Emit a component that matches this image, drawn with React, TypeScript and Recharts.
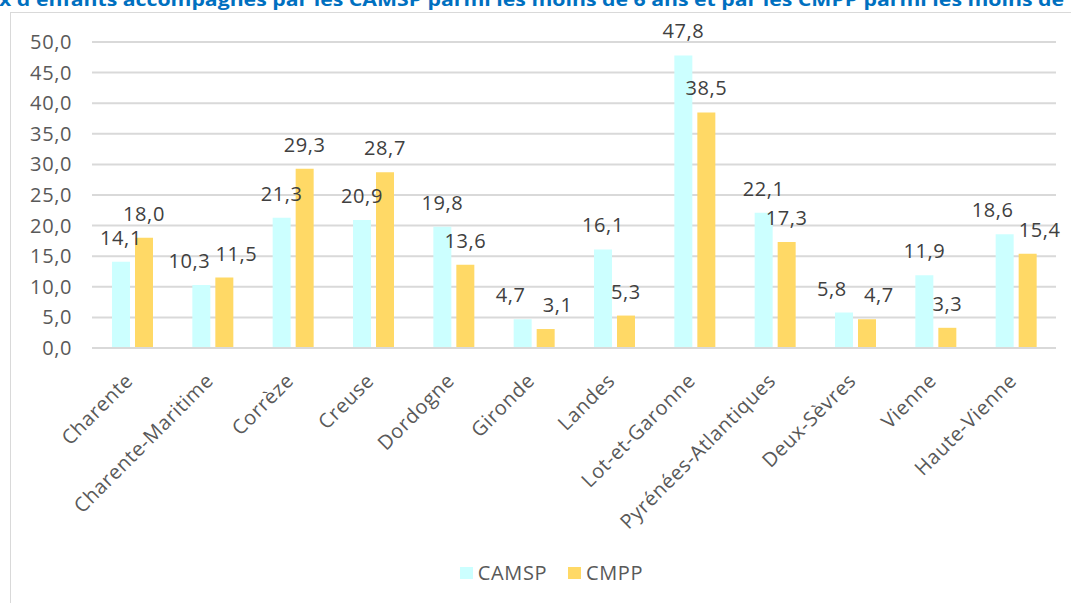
import React from 'react';
import { BarChart, Bar, XAxis, YAxis, CartesianGrid, Legend, LabelList } from 'recharts';

const categories = [
  'Charente', 'Charente-Maritime', 'Corrèze', 'Creuse', 'Dordogne', 'Gironde',
  'Landes', 'Lot-et-Garonne', 'Pyrénées-Atlantiques', 'Deux-Sèvres', 'Vienne', 'Haute-Vienne',
];
const camspValues = [14.1, 10.3, 21.3, 20.9, 19.8, 4.7, 16.1, 47.8, 22.1, 5.8, 11.9, 18.6];
const cmppValues = [18.0, 11.5, 29.3, 28.7, 13.6, 3.1, 5.3, 38.5, 17.3, 4.7, 3.3, 15.4];
const yTicks = [0, 5, 10, 15, 20, 25, 30, 35, 40, 45, 50];
const seriesNames = ['CAMSP', 'CMPP'];
const titleText = "x d'enfants accompagnés par les CAMSP  parmi les moins de 6 ans et par les CMPP  parmi les moins de";

const COLORS = { camsp: '#CCFFFF', cmpp: '#FFD966' };
const FONT = '"Open Sans", "Segoe UI", sans-serif';
const FS = 20;
const LS = 0.6;

const data = categories.map((name, i) => ({ name, camsp: camspValues[i], cmpp: cmppValues[i] }));

const fmt = (v: number) => v.toFixed(1).replace('.', ',');

const XTick = (props: any) => {
  const { x, y, payload } = props;
  const ax = x + 2;
  const ay = y + 26;
  return (
    <text
      x={ax}
      y={ay}
      transform={`rotate(-45, ${ax}, ${ay})`}
      textAnchor="end"
      fill="#595959"
      fontSize={FS}
      letterSpacing={LS}
      fontFamily={FONT}
    >
      {payload.value}
    </text>
  );
};

const YTick = (props: any) => {
  const { x, y, payload } = props;
  return (
    <text x={x} y={y} dy={7} textAnchor="end" fill="#595959" fontSize={FS} letterSpacing={LS} fontFamily={FONT}>
      {fmt(payload.value)}
    </text>
  );
};

const makeLabel = (own: number[], other: number[], dir: number) => (props: any) => {
  const { x, y, width, height, value, index } = props;
  const v = Number(value);
  const pxPer = v ? Number(height) / v : 0;
  const diff = Math.abs(own[index] - other[index]) * pxPer;
  const shift = diff < 21 ? dir * 12 : 0;
  return (
    <text
      x={Number(x) + Number(width) / 2 + shift}
      y={Number(y) - 17}
      textAnchor="middle"
      fill="#404040"
      fontSize={FS}
      letterSpacing={LS}
      fontFamily={FONT}
    >
      {fmt(v)}
    </text>
  );
};

const LegendContent = () => (
  <div style={{ display: 'flex', justifyContent: 'center', alignItems: 'center', fontFamily: FONT, fontSize: FS, letterSpacing: LS, color: '#595959', paddingLeft: 32 }}>
    {seriesNames.map((n, i) => (
      <div key={n} style={{ display: 'flex', alignItems: 'center', marginRight: i === 0 ? 21 : 0 }}>
        <span style={{ display: 'inline-block', width: 13, height: 12, background: i === 0 ? COLORS.camsp : COLORS.cmpp, marginRight: 5 }} />
        <span>{n}</span>
      </div>
    ))}
  </div>
);

export default function App() {
  return (
    <div style={{ position: 'absolute', left: 0, top: 0, width: 1071, height: 603, overflow: 'hidden', background: '#fff' }}>
      <div style={{ position: 'absolute', left: 10, top: 12, width: 1120, height: 700, border: '1.5px solid #d9d9d9', boxSizing: 'border-box' }} />
      <svg width={1071} height={20} style={{ position: 'absolute', left: 0, top: 0 }}>
        <text x={-1} y={6} fill="#0070C0" fontWeight="bold" fontSize={18} fontFamily={FONT} textLength={1065} lengthAdjust="spacingAndGlyphs">
          {titleText}
        </text>
      </svg>
      <div style={{ position: 'absolute', left: 0, top: 0 }}>
        <BarChart width={1071} height={603} data={data} margin={{ top: 42, right: 15, bottom: 0, left: 0 }} barSize={18} barGap={5}>
          <CartesianGrid vertical={false} stroke="#d9d9d9" strokeWidth={2} />
          <XAxis
            dataKey="name"
            interval={0}
            height={255}
            tick={<XTick />}
            tickLine={false}
            axisLine={{ stroke: '#d9d9d9', strokeWidth: 2 }}
          />
          <YAxis
            domain={[0, 50]}
            ticks={yTicks}
            axisLine={false}
            tickLine={false}
            width={92}
            tickMargin={14}
            tick={<YTick />}
          />
          <Legend verticalAlign="middle" align="center" layout="horizontal" wrapperStyle={{ top: 559, left: 0, width: 1071 }} content={<LegendContent />} />
          <Bar dataKey="camsp" name="CAMSP" fill={COLORS.camsp} isAnimationActive={false}>
            <LabelList dataKey="camsp" content={makeLabel(camspValues, cmppValues, -1)} />
          </Bar>
          <Bar dataKey="cmpp" name="CMPP" fill={COLORS.cmpp} isAnimationActive={false}>
            <LabelList dataKey="cmpp" content={makeLabel(cmppValues, camspValues, 1)} />
          </Bar>
        </BarChart>
      </div>
    </div>
  );
}
